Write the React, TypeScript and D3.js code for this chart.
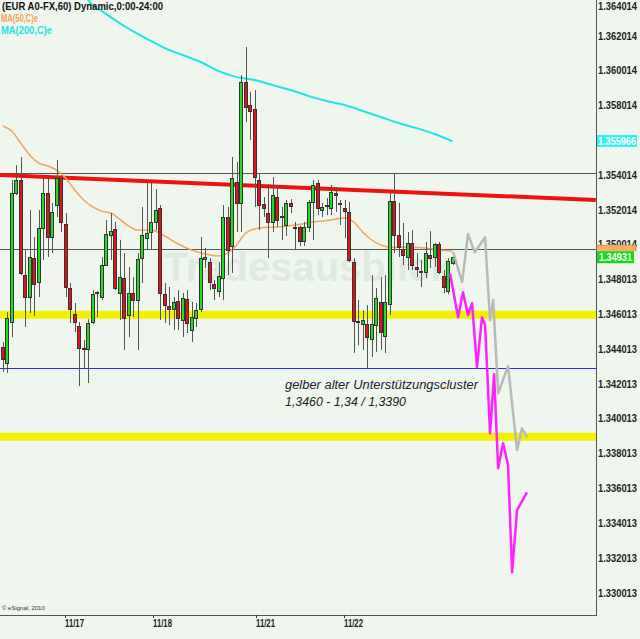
import React from 'react';
import * as d3 from 'd3';

const opens = [1.34415,1.34323,1.34559,1.35300,1.35375,1.34828,1.34702,1.34926,1.34789,1.35099,1.35300,1.35047,1.35231,1.35386,1.35122,1.34754,1.34604,1.34536,1.34403,1.34403,1.34559,1.34725,1.34702,1.34886,1.35058,1.35093,1.34725,1.34811,1.34598,1.34725,1.34685,1.34926,1.35041,1.35076,1.35134,1.35214,1.34719,1.34651,1.34633,1.34679,1.34570,1.34690,1.34512,1.34581,1.34633,1.34921,1.34904,1.34777,1.34736,1.34811,1.35162,1.34996,1.35364,1.35243,1.35938,1.35805,1.35782,1.35375,1.35237,1.35185,1.35134,1.35277,1.35162,1.35116,1.35243,1.35105,1.35105,1.35024,1.35105,1.35249,1.35358,1.35202,1.35231,1.35214,1.35300,1.35237,1.35214,1.35191,1.34904,1.34559,1.34550,1.34547,1.34460,1.34541,1.34674,1.34478,1.34662,1.35254,1.35058,1.34978,1.34932,1.35013,1.34875,1.34846,1.34846,1.34943,1.34932,1.35007,1.34823,1.34736,1.34898];
const highs = [1.34444,1.34616,1.35375,1.35460,1.35507,1.34972,1.35202,1.35047,1.35202,1.35386,1.35386,1.35243,1.35489,1.35403,1.35185,1.34783,1.34668,1.34559,1.34455,1.34575,1.34742,1.34736,1.34932,1.35145,1.35185,1.35134,1.35030,1.34955,1.34875,1.34817,1.34955,1.35220,1.35358,1.35358,1.35323,1.35231,1.34783,1.34760,1.34702,1.34742,1.34725,1.34742,1.34674,1.34668,1.35047,1.34984,1.34926,1.34800,1.34904,1.35231,1.35220,1.35507,1.35478,1.35978,1.36139,1.35881,1.35892,1.35415,1.35277,1.35352,1.35392,1.35346,1.35220,1.35260,1.35265,1.35134,1.35111,1.35134,1.35260,1.35375,1.35375,1.35243,1.35271,1.35346,1.35335,1.35260,1.35260,1.35249,1.34926,1.34685,1.34627,1.34656,1.34828,1.34754,1.34817,1.34828,1.35300,1.35415,1.35243,1.35128,1.35076,1.35087,1.34955,1.34915,1.35019,1.35081,1.35013,1.35019,1.34857,1.34926,1.34955];
const lows = [1.34272,1.34266,1.34472,1.35288,1.34828,1.34530,1.34610,1.34593,1.34702,1.34915,1.34932,1.34955,1.35162,1.35076,1.34702,1.34553,1.34501,1.34191,1.34294,1.34208,1.34547,1.34587,1.34685,1.34881,1.34915,1.34742,1.34570,1.34398,1.34472,1.34587,1.34398,1.34783,1.34972,1.34972,1.35087,1.34570,1.34553,1.34541,1.34512,1.34512,1.34472,1.34495,1.34444,1.34530,1.34616,1.34869,1.34742,1.34685,1.34702,1.34685,1.34828,1.34840,1.35076,1.35076,1.35708,1.35604,1.35220,1.35087,1.35162,1.34926,1.35076,1.35105,1.35030,1.35053,1.35185,1.34972,1.34996,1.34996,1.35076,1.35030,1.35173,1.35162,1.35173,1.35173,1.35191,1.35116,1.35041,1.34904,1.34381,1.34426,1.34398,1.34294,1.34358,1.34387,1.34398,1.34381,1.34598,1.34955,1.34932,1.34886,1.34857,1.34857,1.34817,1.34760,1.34811,1.34869,1.34875,1.34834,1.34725,1.34719,1.34886];
const closes = [1.34346,1.34581,1.35300,1.35375,1.34840,1.34702,1.34932,1.34777,1.35099,1.35300,1.35047,1.35191,1.35386,1.35134,1.34760,1.34633,1.34559,1.34409,1.34409,1.34553,1.34719,1.34731,1.34886,1.35064,1.35081,1.34754,1.34817,1.34581,1.34725,1.34685,1.34921,1.35058,1.35070,1.35134,1.35202,1.34725,1.34656,1.34633,1.34674,1.34581,1.34696,1.34553,1.34587,1.34627,1.34926,1.34932,1.34789,1.34754,1.34823,1.35162,1.34972,1.35386,1.35243,1.35938,1.35794,1.35771,1.35392,1.35231,1.35214,1.35134,1.35288,1.35145,1.35168,1.35243,1.35226,1.35102,1.35024,1.35105,1.35249,1.35346,1.35214,1.35220,1.35228,1.35306,1.35288,1.35240,1.35196,1.34915,1.34564,1.34562,1.34570,1.34472,1.34547,1.34696,1.34501,1.34674,1.35254,1.35058,1.34990,1.34943,1.35013,1.34886,1.34863,1.34851,1.34955,1.34926,1.35007,1.34846,1.34760,1.34909,1.34932];

const ma200Idx = [18,19,20,22,24,27,30,33,36,40,44,48,52,56,60,64,68,72,76,80,84,88,92,96,100];
const ma200Val = [1.36438,1.36409,1.36380,1.36346,1.36311,1.36260,1.36214,1.36173,1.36133,1.36093,1.36053,1.36001,1.35966,1.35949,1.35920,1.35892,1.35857,1.35829,1.35806,1.35771,1.35737,1.35702,1.35673,1.35639,1.355966];
const ma50Idx = [0,2,4,6,8,10,12,14,16,18,20,22,24,26,28,30,33,36,39,42,45,48,50,52,54,57,61,65,69,73,76,78,80,82,84,86,90,94,97,100];
const ma50Val = [1.35685,1.35656,1.35587,1.35518,1.35472,1.35455,1.35432,1.35386,1.35317,1.35260,1.35220,1.35196,1.35185,1.35150,1.35110,1.35087,1.35087,1.35053,1.35007,1.34972,1.34949,1.34938,1.34955,1.35001,1.35070,1.35099,1.35105,1.35116,1.35134,1.35145,1.35157,1.35134,1.35076,1.35030,1.35001,1.34989,1.34989,1.34984,1.34972,1.34966];

const grayIdx = [100.1,102.1,103.4,104.9,107.2,108.3,109.0,110.1,112.3,114.3,115.4,116.5];
const grayVal = [1.34960,1.34788,1.35064,1.34960,1.35046,1.34569,1.34685,1.34149,1.34305,1.33822,1.33948,1.33896];
const magIdx = [99.4,101.2,102.3,103.4,104.3,105.4,106.5,107.2,108.3,109.2,110.1,111.2,112.3,113.2,114.3,116.5];
const magVal = [1.34839,1.34586,1.34730,1.34598,1.34667,1.34299,1.34586,1.34540,1.33919,1.34259,1.33718,1.33862,1.33735,1.33120,1.33477,1.33580];

const trendIdx = [-0.6, 131.8];
const trendVal = [1.35403, 1.35260];
const grayLevels = [1.35415, 1.34978];
const blueLevel = 1.34293;
const yellowLevels = [1.3460, 1.3390];

const priceTicks = [1.364014,1.362014,1.360014,1.358014,1.356014,1.354014,1.352014,1.350014,1.348013,1.346013,1.344013,1.342013,1.340013,1.338013,1.336013,1.334013,1.332013,1.330013];
const dayTickIdx = [13.8, 33.5, 56.3, 75.8];
const dayTickLabels = ['11/17', '11/18', '11/21', '11/22'];

const lastMA200 = 1.355966;
const lastMA50 = 1.34966;
const lastClose = 1.34931;

const FONT = '"Liberation Sans", Arial, sans-serif';

export default function App() {
  const x = d3.scaleLinear().domain([0, 100]).range([2.7, 452.7]);
  const y = d3.scaleLinear().domain([1.330013, 1.364014]).range([593, 1.38]);
  const PR = 596;
  const PB = 615;

  const line = d3.line<[number, number]>().x(d => x(d[0])).y(d => y(d[1]));
  const smooth = d3.line<[number, number]>().x(d => x(d[0])).y(d => y(d[1])).curve(d3.curveMonotoneX);
  const zip = (a: number[], b: number[]) => a.map((v, i) => [v, b[i]] as [number, number]);

  const candles = opens.map((o, i) => {
    const c = closes[i];
    const cx = Math.round(x(i));
    const top = Math.round(y(Math.max(o, c)));
    const bot = Math.round(y(Math.min(o, c)));
    const up = c > o;
    const h = Math.max(1, bot - top);
    return (
      <g key={i}>
        <line x1={cx + 0.5} x2={cx + 0.5} y1={y(highs[i])} y2={y(lows[i])} stroke="#555" strokeWidth={1} />
        <rect x={cx - 1.5} y={top + 0.5} width={3} height={h} fill={Math.abs(c - o) < 0.00004 ? '#333' : up ? '#22dc22' : '#e2141a'} stroke="#333" strokeWidth={1} />
      </g>
    );
  });

  return (
    <svg width={640} height={639} style={{ position: 'absolute', left: 0, top: 0, display: 'block' }} fontFamily={FONT}>
      <defs>
        <clipPath id="plot"><rect x={0} y={0} width={PR} height={PB} /></clipPath>
        <clipPath id="ma50box"><rect x={596} y={0} width={44} height={y(lastClose) - 6} /></clipPath>
      </defs>
      <rect x={0} y={0} width={640} height={639} fill="#eef6ee" />
      <g clipPath="url(#plot)">
        <text x={308} y={281} textAnchor="middle" fontSize={40} fontWeight="bold" fill="#dfeadf">Tradesausblick</text>
        {yellowLevels.map((v, i) => (
          <line key={i} x1={0} x2={PR} y1={y(v)} y2={y(v)} stroke="#f2f200" strokeWidth={8} />
        ))}
        {grayLevels.map((v, i) => (
          <line key={i} x1={0} x2={PR} y1={Math.round(y(v)) + 0.5} y2={Math.round(y(v)) + 0.5} stroke="#555" strokeWidth={1} />
        ))}
        <line x1={0} x2={PR} y1={Math.round(y(blueLevel)) + 0.5} y2={Math.round(y(blueLevel)) + 0.5} stroke="#2a2aff" strokeWidth={1} />
        <path d={line(zip(trendIdx, trendVal)) || ''} stroke="#ee1111" strokeWidth={4} fill="none" />
        <path d={smooth(zip(ma200Idx, ma200Val)) || ''} stroke="#22e4e4" strokeWidth={2} fill="none" />
        <path d={smooth(zip(ma50Idx, ma50Val)) || ''} stroke="#f4a45a" strokeWidth={1.5} fill="none" />
        {candles}
        <path d={line(zip(grayIdx, grayVal)) || ''} stroke="#b9b9b9" strokeWidth={2.5} fill="none" strokeLinejoin="round" />
        <path d={line(zip(magIdx, magVal)) || ''} stroke="#ff22ff" strokeWidth={2.5} fill="none" strokeLinejoin="round" />
      </g>

      <line x1={PR + 0.5} x2={PR + 0.5} y1={0} y2={PB + 1} stroke="#555" strokeWidth={1} />
      <line x1={0} x2={PR + 1} y1={PB + 0.5} y2={PB + 0.5} stroke="#555" strokeWidth={1} />

      {priceTicks.map((v, i) => (
        <text key={i} x={598} y={Math.max(6, y(v))} dominantBaseline="central" fontSize={10} fontWeight="bold" fill="#222" textLength={39} lengthAdjust="spacingAndGlyphs">{v.toFixed(6)}</text>
      ))}

      <rect x={597} y={y(lastMA200) - 6.5} width={40} height={12} fill="#33f0f0" />
      <text x={598} y={y(lastMA200)} dominantBaseline="central" fontSize={10} fontWeight="bold" fill="#fff" textLength={38} lengthAdjust="spacingAndGlyphs">{lastMA200.toFixed(6)}</text>
      <g clipPath="url(#ma50box)">
        <rect x={597} y={y(lastMA50) - 6} width={39} height={11} fill="#f8b060" stroke="#e89040" strokeWidth={0.8} />
      </g>
      <rect x={597} y={y(lastClose) - 6} width={37} height={12} fill="#18d818" />
      <text x={599} y={y(lastClose)} dominantBaseline="central" fontSize={10} fontWeight="bold" fill="#fff" textLength={33} lengthAdjust="spacingAndGlyphs">{lastClose.toFixed(5)}</text>

      {dayTickIdx.map((t, i) => (
        <g key={i}>
          <line x1={Math.round(x(t)) + 0.5} x2={Math.round(x(t)) + 0.5} y1={PB} y2={PB + 3} stroke="#333" strokeWidth={1} />
          <text x={Math.round(x(t))} y={623} dominantBaseline="central" fontSize={10.5} fontWeight="bold" fill="#222" textLength={19} lengthAdjust="spacingAndGlyphs">{dayTickLabels[i]}</text>
        </g>
      ))}

      <text x={2} y={610} fontSize={6} fill="#333">© eSignal, 2010</text>

      <text x={2} y={6} dominantBaseline="central" fontSize={11} fontWeight="bold" fill="#111" textLength={161} lengthAdjust="spacingAndGlyphs">(EUR A0-FX,60) Dynamic,0:00-24:00</text>
      <text x={1} y={17.5} dominantBaseline="central" fontSize={11} fontWeight="bold" fill="#f4a45a" textLength={37} lengthAdjust="spacingAndGlyphs">MA(50,C)e</text>
      <text x={1} y={29.5} dominantBaseline="central" fontSize={11} fontWeight="bold" fill="#22e4e4" textLength={51} lengthAdjust="spacingAndGlyphs">MA(200,C)e</text>

      <text x={285} y={385} dominantBaseline="central" fontSize={12.5} fontStyle="italic" fill="#222" textLength={193} lengthAdjust="spacingAndGlyphs">gelber alter Unterstützungscluster</text>
      <text x={285} y={402} dominantBaseline="central" fontSize={12.5} fontStyle="italic" fill="#222" textLength={121} lengthAdjust="spacingAndGlyphs">1,3460 - 1,34 / 1,3390</text>
    </svg>
  );
}
